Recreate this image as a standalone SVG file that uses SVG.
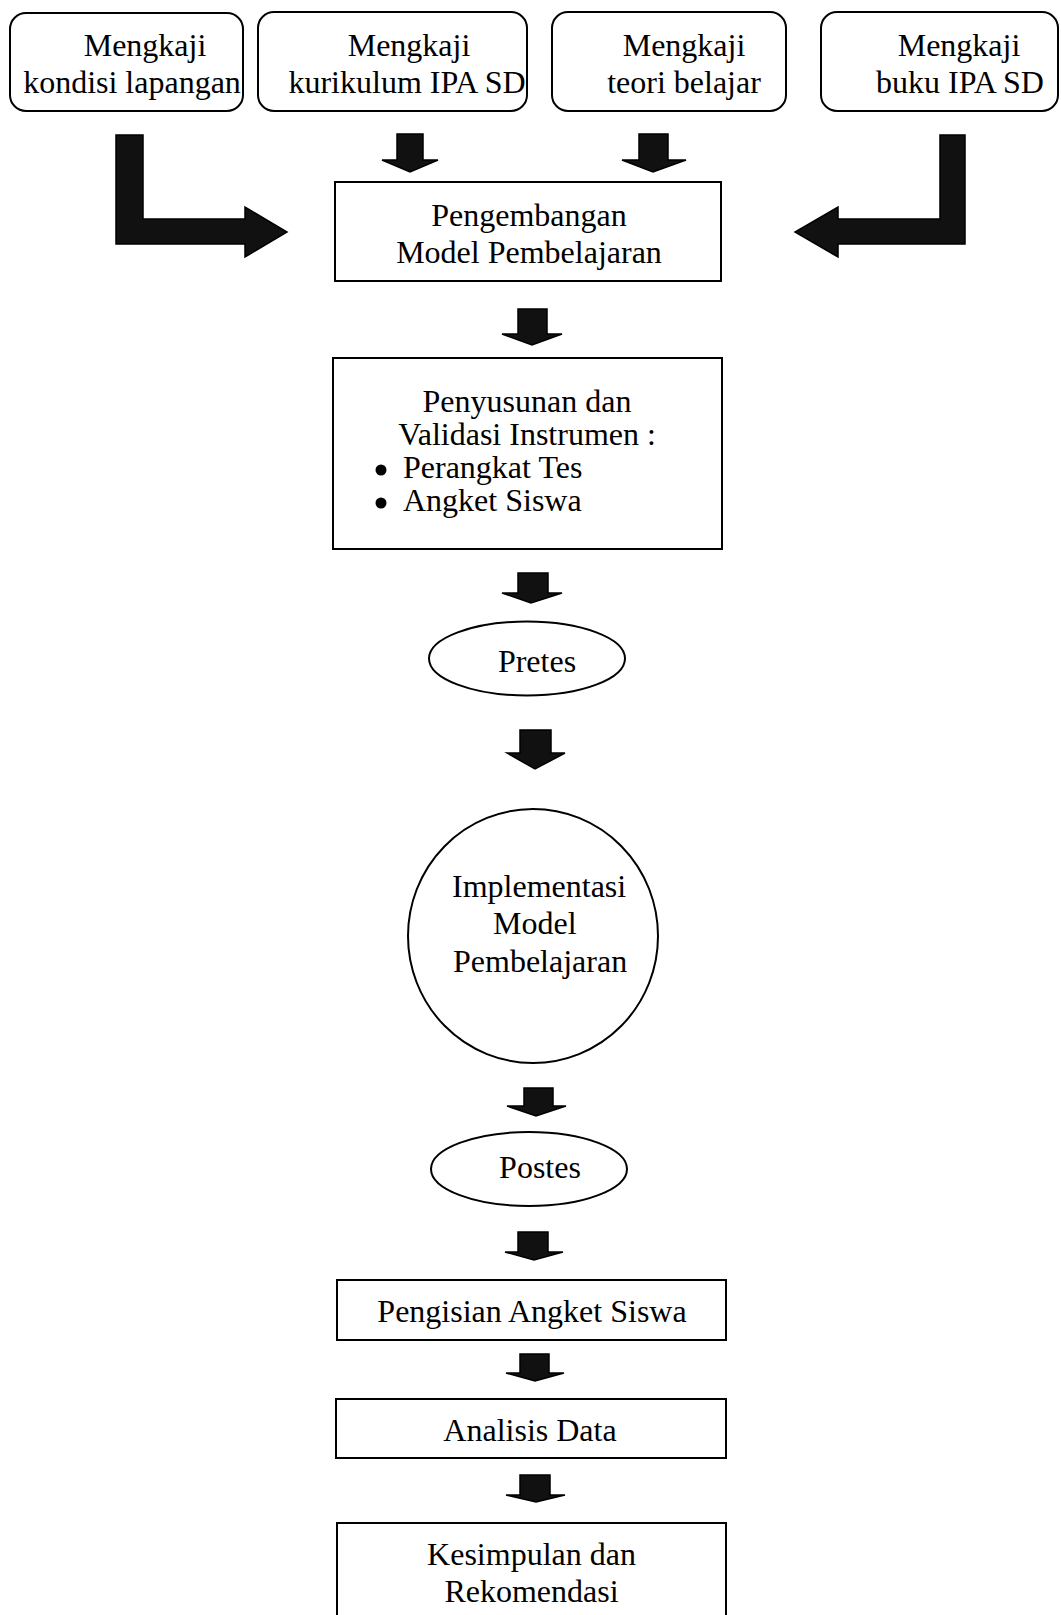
<svg xmlns="http://www.w3.org/2000/svg" width="1061" height="1615" viewBox="0 0 1061 1615">
<style>
  .box { fill: #fff; stroke: #000; stroke-width: 2; }
  .arr { fill: #111; stroke: #000; stroke-width: 1.5; stroke-linejoin: miter; }
  text { font-family: "Liberation Serif", "Times New Roman", serif; font-size: 32px; fill: #000; }
  .c { text-anchor: middle; }
</style>
<rect width="1061" height="1615" fill="#fff"/>

<g id="connectors">
  <path class="arr" d="M116,135 H143 V219 H245 V207 L287,232 L245,257 V244 H116 Z"/>
  <path class="arr" d="M965,135 H940 V219 H838 V207 L795,232 L838,257 V244 H965 Z"/>
  <path class="arr" d="M397,134 H423 V160 H438 L410,172 L382,160 H397 Z"/>
  <path class="arr" d="M639,134 H668 V160 H686 L653,172 L622,160 H639 Z"/>
  <path class="arr" d="M518,309 H547 V334 H562 L532,345 L502,334 H518 Z"/>
  <path class="arr" d="M518,573 H548 V593 H562 L531,603 L502,593 H518 Z"/>
  <path class="arr" d="M520,730 H551 V753 H565 L535,769 L507,753 H520 Z"/>
  <path class="arr" d="M524,1088 H553 V1106 H566 L536,1116 L507,1106 H524 Z"/>
  <path class="arr" d="M518,1232 H548 V1252 H563 L534,1260 L505,1252 H518 Z"/>
  <path class="arr" d="M520,1354 H549 V1373 H564 L535,1381 L506,1373 H520 Z"/>
  <path class="arr" d="M520,1475 H550 V1495 H565 L536,1502 L506,1495 H520 Z"/>
</g>

<g id="n1">
  <rect class="box" x="10" y="13" width="233" height="98" rx="16"/>
  <text class="c" x="145" y="56">Mengkaji</text>
  <text class="c" x="132" y="93">kondisi lapangan</text>
</g>
<g id="n2">
  <rect class="box" x="258" y="12" width="269" height="99" rx="16"/>
  <text class="c" x="409" y="56">Mengkaji</text>
  <text class="c" x="407" y="93">kurikulum IPA SD</text>
</g>
<g id="n3">
  <rect class="box" x="552" y="12" width="234" height="99" rx="16"/>
  <text class="c" x="684" y="56">Mengkaji</text>
  <text class="c" x="684" y="93">teori belajar</text>
</g>
<g id="n4">
  <rect class="box" x="821" y="12" width="237" height="99" rx="16"/>
  <text class="c" x="959" y="56">Mengkaji</text>
  <text class="c" x="960" y="93">buku IPA SD</text>
</g>

<g id="n5">
  <rect class="box" x="335" y="182" width="386" height="99"/>
  <text class="c" x="529" y="226">Pengembangan</text>
  <text class="c" x="529" y="263">Model Pembelajaran</text>
</g>

<g id="n6">
  <rect class="box" x="333" y="358" width="389" height="191"/>
  <text class="c" x="527" y="412">Penyusunan dan</text>
  <text class="c" x="527" y="445">Validasi Instrumen :</text>
  <circle cx="381" cy="470" r="5.5" fill="#000"/>
  <text x="403" y="478">Perangkat Tes</text>
  <circle cx="381" cy="503" r="5.5" fill="#000"/>
  <text x="403" y="511">Angket Siswa</text>
</g>

<g id="n7">
  <ellipse class="box" cx="527" cy="658.5" rx="98" ry="37"/>
  <text class="c" x="537" y="672">Pretes</text>
</g>

<g id="n8">
  <ellipse class="box" cx="533" cy="936" rx="125" ry="127"/>
  <text x="452" y="897">Implementasi</text>
  <text x="493" y="934">Model</text>
  <text x="453" y="972">Pembelajaran</text>
</g>

<g id="n9">
  <ellipse class="box" cx="529" cy="1169" rx="98" ry="37"/>
  <text class="c" x="540" y="1178">Postes</text>
</g>

<g id="n10">
  <rect class="box" x="337" y="1280" width="389" height="60"/>
  <text class="c" x="532" y="1322">Pengisian Angket Siswa</text>
</g>

<g id="n11">
  <rect class="box" x="336" y="1399" width="390" height="59"/>
  <text class="c" x="530" y="1441">Analisis Data</text>
</g>

<g id="n12">
  <rect class="box" x="337" y="1523" width="389" height="110"/>
  <text class="c" x="531.5" y="1565">Kesimpulan dan</text>
  <text class="c" x="531.5" y="1602">Rekomendasi</text>
</g>
</svg>
